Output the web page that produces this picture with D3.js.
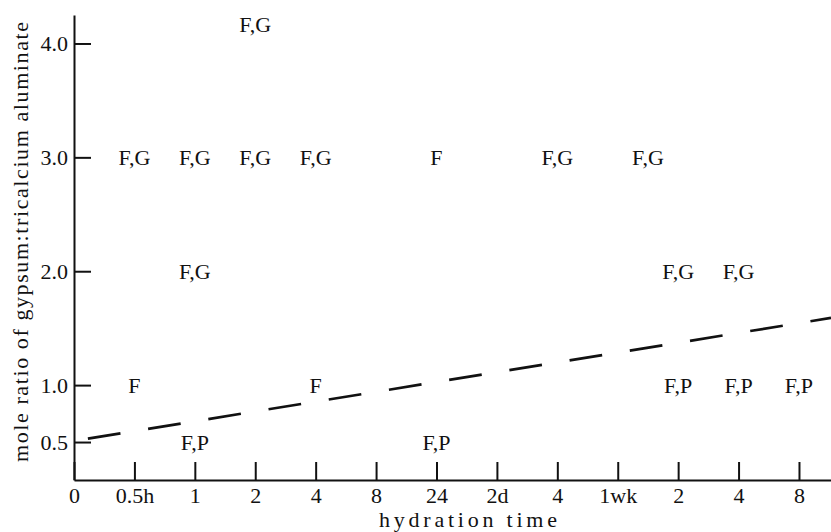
<!DOCTYPE html>
<html>
<head>
<meta charset="utf-8">
<script src="https://cdn.jsdelivr.net/npm/d3@7"></script>
</head>
<body style="margin:0">
<svg id="s" width="831" height="532"></svg>
<script>
// hydration time categories (tick index = position on the axis)
var timeLabels = ["0", "0.5h", "1", "2", "4", "8", "24", "2d", "4", "1wk", "2", "4", "8"];
var ratioTicks = [0.5, 1, 2, 3, 4];

// observed phases: time index, mole ratio, phases found
var obsTime  = [3,   1,   2,   3,   4,   6,  8,   9.5,  2,   10,  11,   1,  4,  10,  11,  12,   2,   6];
var obsRatio = [4.17, 3,   3,   3,   3,   3,  3,   3,    2,   2,   2,    1,  1,  1,   1,   1,    0.5, 0.5];
var obsPhase = ["F,G", "F,G", "F,G", "F,G", "F,G", "F", "F,G", "F,G",
                "F,G", "F,G", "F,G",
                "F", "F", "F,P", "F,P", "F,P",
                "F,P", "F,P"];

// dashed boundary line
var lineTime  = [0.23, 12.53];
var lineRatio = [0.53, 1.59];

var INK = "#111";

function serif(sel) {
	sel.attr("font-family", "Liberation Serif")
		.attr("font-size", 22)
		.style("font-family", "'Liberation Serif'")
		.style("font-size", "22px")
		.attr("fill", INK);
}

var svg = d3.select("#s");

var x = d3.scaleLinear().domain([0, 12.53]).range([74, 831]);
var y = d3.scaleLinear().domain([0.1667, 4.25]).range([480, 15]);

var xAxis = d3.axisBottom(x)
	.tickValues(d3.range(timeLabels.length))
	.tickFormat(function(i) { return timeLabels[i]; })
	.tickSize(-18)
	.tickSizeOuter(0)
	.tickPadding(7);

var yAxis = d3.axisLeft(y)
	.tickValues(ratioTicks)
	.tickFormat(d3.format(".1f"))
	.tickSize(-17)
	.tickSizeOuter(0)
	.tickPadding(6);

var gx = svg.append("g")
	.attr("transform", "translate(0,480)")
	.call(xAxis);

var gy = svg.append("g")
	.attr("transform", "translate(74,0)")
	.call(yAxis);

[gx, gy].forEach(function(g) {
	g.attr("font-family", "Liberation Serif").attr("font-size", 22);
	g.selectAll("path, line")
		.attr("stroke", INK)
		.attr("stroke-width", 2);
	g.selectAll("text").call(serif);
});

// boundary line
var line = d3.line()
	.x(function(d) { return x(d[0]); })
	.y(function(d) { return y(d[1]); });

svg.append("path")
	.datum(d3.zip(lineTime, lineRatio))
	.attr("d", line)
	.attr("fill", "none")
	.attr("stroke", INK)
	.attr("stroke-width", 2.7)
	.attr("stroke-dasharray", "33,28");

// phase labels
svg.selectAll(".phase")
	.data(d3.range(obsTime.length))
	.enter()
		.append("text")
			.attr("class", "phase")
			.attr("x", function(i) { return x(obsTime[i]); })
			.attr("y", function(i) { return y(obsRatio[i]); })
			.attr("dy", "0.34em")
			.attr("text-anchor", "middle")
			.call(serif)
			.text(function(i) { return obsPhase[i]; });

// axis titles
svg.append("text")
	.attr("x", 468)
	.attr("y", 527)
	.attr("text-anchor", "middle")
	.attr("textLength", 178)
	.attr("lengthAdjust", "spacing")
	.call(serif)
	.text("hydration time");

svg.append("text")
	.attr("transform", "translate(28,242) rotate(-90)")
	.attr("text-anchor", "middle")
	.attr("textLength", 440)
	.attr("lengthAdjust", "spacing")
	.call(serif)
	.text("mole ratio of gypsum:tricalcium aluminate");
</script>
</body>
</html>
